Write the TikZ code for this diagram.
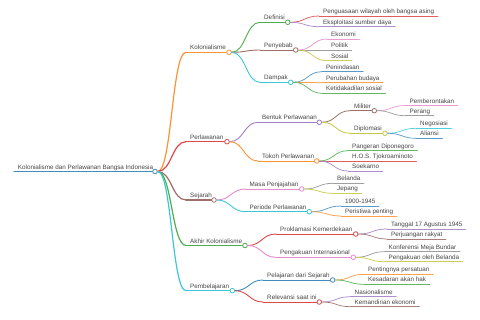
\documentclass[tikz,border=0pt]{standalone}
\usepackage{fontspec}
\setmainfont{Liberation Sans}
\usetikzlibrary{calc}
\definecolor{c0}{HTML}{1F77B4}
\definecolor{c1}{HTML}{FF7F0E}
\definecolor{c2}{HTML}{2CA02C}
\definecolor{c3}{HTML}{D62728}
\definecolor{c4}{HTML}{9467BD}
\definecolor{c5}{HTML}{8C564B}
\definecolor{c6}{HTML}{E377C2}
\definecolor{c7}{HTML}{7F7F7F}
\definecolor{c8}{HTML}{BCBD22}
\definecolor{c9}{HTML}{17BECF}
\definecolor{txtc}{HTML}{444444}
\tikzset{
  txt/.style={inner sep=0pt, text=txtc, font=\fontsize{6.3}{7}\selectfont},
  knob/.style={circle, fill=white, minimum size=4.6pt, inner sep=0pt, line width=0.8pt},
}
% link from parent knob to child start
\newcommand\mmlink[5]{%
  \coordinate (#1s) at (#3,#4);
  \coordinate (#1m) at ($(#2c.east)!0.5!(#1s)$);
  \draw[#5] (#2c.east) .. controls (#1m |- #2c.east) and (#1m |- #1s) .. (#1s);
}
% internal node: name, parent, xs, y, text, colour, line width, knob x
\newcommand\inode[8]{%
  \mmlink{#1}{#2}{#3}{#4}{draw=#6!85, line width=#7}
  \node[txt, anchor=base west] (#1) at (#3+4,#4-2.3) {#5};
  \draw[draw=#6!85, line width=#7] (#1s) -- (#8,#4);
  \node[knob, draw=#6!85] (#1c) at (#8,#4) {};
}
% leaf node: name, parent, xs, y, text, colour, line width
\newcommand\lnode[7]{%
  \mmlink{#1}{#2}{#3}{#4}{draw=#6!75, line width=#7}
  \node[txt, anchor=base west] (#1) at (#3+4,#4-2.3) {#5};
  \coordinate (#1e) at ([xshift=3.5pt]#1.base east);
  \draw[draw=#6!75, line width=#7] (#1s) -- (#1s -| #1e);
}
\begin{document}
\begin{tikzpicture}[x=1pt, y=-1pt, line cap=round]
\useasboundingbox (0,0) rectangle (480,320);
% root
\coordinate (roots) at (14,171.5);
\node[txt, anchor=base west] (root) at (17.7,169.2) {Kolonialisme dan Perlawanan Bangsa Indonesia};
\draw[c0!85, line width=1.5pt] (roots) -- (155,171.5);
\node[knob, draw=c0!85] (rootc) at (155,171.5) {};
% Kolonialisme
\inode{kol}{root}{186}{52.3}{Kolonialisme}{c1}{1.2pt}{229}
\inode{def}{kol}{260}{22.3}{Definisi}{c2}{0.9pt}{287.7}
\lnode{pwa}{def}{319}{16}{Penguasaan wilayah oleh bangsa asing}{c3}{0.75pt}
\lnode{esd}{def}{319}{26.7}{Eksploitasi sumber daya}{c4}{0.75pt}
\inode{pny}{kol}{260}{50}{Penyebab}{c5}{0.9pt}{295.7}
\lnode{eko}{pny}{327}{39}{Ekonomi}{c6}{0.75pt}
\lnode{pol}{pny}{327}{50}{Politik}{c7}{0.75pt}
\lnode{sos}{pny}{327}{60.7}{Sosial}{c8}{0.75pt}
\inode{dmp}{kol}{260}{82.3}{Dampak}{c9}{0.9pt}{290.7}
\lnode{pnd}{dmp}{322}{71.7}{Penindasan}{c0}{0.75pt}
\lnode{pbd}{dmp}{322}{82.7}{Perubahan budaya}{c1}{0.75pt}
\lnode{kts}{dmp}{322}{93.3}{Ketidakadilan sosial}{c2}{0.75pt}
% Perlawanan
\inode{per}{root}{186}{141.7}{Perlawanan}{c3}{1.2pt}{227}
\inode{bnt}{per}{258}{122.3}{Bentuk Perlawanan}{c4}{0.9pt}{319.3}
\inode{mil}{bnt}{350}{110.7}{Militer}{c5}{0.8pt}{374.3}
\lnode{pmb}{mil}{405.5}{105.5}{Pemberontakan}{c6}{0.7pt}
\lnode{prg}{mil}{405.5}{115.7}{Perang}{c7}{0.7pt}
\inode{dip}{bnt}{350}{133.3}{Diplomasi}{c8}{0.8pt}{385}
\lnode{neg}{dip}{416}{128.3}{Negosiasi}{c9}{0.7pt}
\lnode{ali}{dip}{416}{138.3}{Aliansi}{c0}{0.7pt}
\inode{tok}{per}{258}{161}{Tokoh Perlawanan}{c1}{0.9pt}{316.7}
\lnode{pdi}{tok}{348}{150.7}{Pangeran Diponegoro}{c2}{0.75pt}
\lnode{hos}{tok}{348}{161}{H.O.S. Tjokroaminoto}{c3}{0.75pt}
\lnode{soe}{tok}{348}{171}{Soekarno}{c4}{0.75pt}
% Sejarah
\inode{sej}{root}{186}{200}{Sejarah}{c5}{1.2pt}{214}
\inode{msp}{sej}{245.5}{189}{Masa Penjajahan}{c6}{0.9pt}{301.7}
\lnode{bel}{msp}{333}{183.3}{Belanda}{c7}{0.75pt}
\lnode{jep}{msp}{333}{193.3}{Jepang}{c8}{0.75pt}
\inode{prp}{sej}{245.5}{211.7}{Periode Perlawanan}{c9}{0.9pt}{309.3}
\lnode{thn}{prp}{341}{206}{1900-1945}{c0}{0.75pt}
\lnode{pst}{prp}{341}{216}{Peristiwa penting}{c1}{0.75pt}
% Akhir Kolonialisme
\inode{akh}{root}{186}{245.5}{Akhir Kolonialisme}{c2}{1.2pt}{245}
\inode{prk}{akh}{276}{234}{Proklamasi Kemerdekaan}{c3}{0.9pt}{355.7}
\lnode{tgl}{prk}{387}{229}{Tanggal 17 Agustus 1945}{c4}{0.75pt}
\lnode{pjr}{prk}{387}{239}{Perjuangan rakyat}{c5}{0.75pt}
\inode{pgi}{akh}{276}{257.3}{Pengakuan Internasional}{c6}{0.9pt}{353.3}
\lnode{kmb}{pgi}{384.5}{251.7}{Konferensi Meja Bundar}{c7}{0.75pt}
\lnode{pob}{pgi}{384.5}{261.7}{Pengakuan oleh Belanda}{c8}{0.75pt}
% Pembelajaran
\inode{pbl}{root}{186}{290.7}{Pembelajaran}{c9}{1.2pt}{232.3}
\inode{pds}{pbl}{263}{280}{Pelajaran dari Sejarah}{c0}{0.9pt}{332.7}
\lnode{pps}{pds}{364}{274.3}{Pentingnya persatuan}{c1}{0.75pt}
\lnode{kah}{pds}{364}{284.3}{Kesadaran akan hak}{c2}{0.75pt}
\inode{rsi}{pbl}{263}{302}{Relevansi saat ini}{c3}{0.9pt}{319.3}
\lnode{nas}{rsi}{350.5}{296.7}{Nasionalisme}{c4}{0.75pt}
\lnode{kme}{rsi}{350.5}{306.7}{Kemandirian ekonomi}{c5}{0.75pt}
\end{tikzpicture}
\end{document}
